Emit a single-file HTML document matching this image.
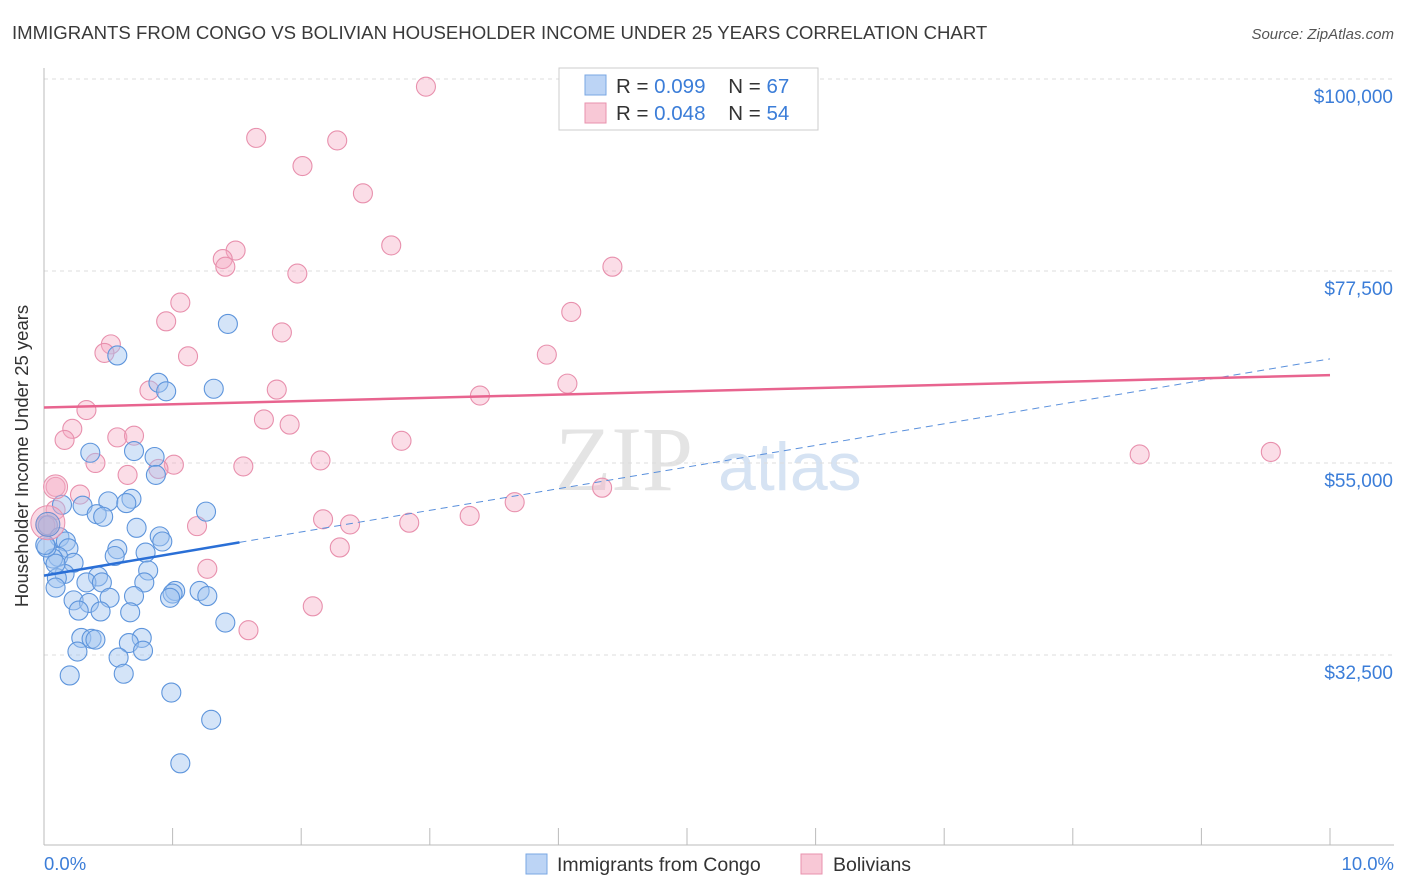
<!DOCTYPE html>
<html><head><meta charset="utf-8"><style>
body{margin:0;background:#fff;font-family:"Liberation Sans",sans-serif;}
svg{display:block}
</style></head><body>
<svg id="chart" width="1406" height="892">
<text x="12" y="39" font-size="18.6" fill="#3a3a3a">IMMIGRANTS FROM CONGO VS BOLIVIAN HOUSEHOLDER INCOME UNDER 25 YEARS CORRELATION CHART</text>
<text x="1394" y="39" font-size="15" fill="#555" text-anchor="end" font-style="italic">Source: ZipAtlas.com</text>
<text x="555" y="490" font-size="92" fill="#e4e4e4" font-family="Liberation Serif">ZIP</text>
<text x="718" y="490" font-size="68" fill="#d6e3f3">atlas</text>
<g id="grid"></g>
<line x1="44" y1="68" x2="44" y2="845" stroke="#bbb"/>
<line x1="44" y1="845" x2="1394" y2="845" stroke="#bbb"/>
<text x="28" y="456" font-size="18.5" fill="#333" text-anchor="middle" transform="rotate(-90 28 456)">Householder Income Under 25 years</text>
<text x="44" y="870" font-size="18.5" fill="#3b7dd8">0.0%</text>
<text x="1394" y="870" font-size="18.5" fill="#3b7dd8" text-anchor="end">10.0%</text>
<g id="points"></g>
<g id="lines"></g>
<g>
<rect x="559" y="68" width="259" height="62" fill="#fff" stroke="#ccc"/>
<rect x="585" y="75" width="21" height="20" fill="#bcd4f5" stroke="#7aa7e3"/>
<text x="616" y="93" font-size="20.5" fill="#333">R = <tspan fill="#3b7dd8">0.099</tspan>&#160;&#160;&#160; N = <tspan fill="#3b7dd8">67</tspan></text>
<rect x="585" y="103" width="21" height="20" fill="#f8c8d6" stroke="#e892ad"/>
<text x="616" y="120" font-size="20.5" fill="#333">R = <tspan fill="#3b7dd8">0.048</tspan>&#160;&#160;&#160; N = <tspan fill="#3b7dd8">54</tspan></text>
</g>
<g>
<rect x="526" y="854" width="21" height="20" fill="#bcd4f5" stroke="#7aa7e3"/>
<text x="557" y="871" font-size="19.5" fill="#333">Immigrants from Congo</text>
<rect x="801" y="854" width="21" height="20" fill="#f8c8d6" stroke="#e892ad"/>
<text x="833" y="871" font-size="19.5" fill="#333">Bolivians</text>
</g>
</svg>
<script>
const yTicks=[100000,77500,55000,32500];
const yTickLabels=["$100,000","$77,500","$55,000","$32,500"];
const xTicks=[0,1,2,3,4,5,6,7,8,9,10];
const congoX=[1.43,0.57,0.89,0.95,1.32,0.36,0.70,0.86,0.87,0.14,0.30,0.50,0.68,0.64,0.41,0.46,1.26,0.72,0.90,0.92,0.03,0.12,0.17,0.19,0.11,0.07,0.23,0.57,0.55,0.79,0.81,0.16,0.10,0.42,0.33,0.45,0.78,0.09,0.51,0.70,1.02,1.00,0.98,1.21,1.27,0.23,0.35,0.27,0.44,0.67,1.41,0.29,0.37,0.40,0.76,0.66,0.77,0.26,0.58,0.20,0.62,0.99,1.30,1.06,0.02,0.09,0.01];
const congoY=[71300,67600,64400,63400,63700,56200,56400,55700,53600,50100,50000,50500,50800,50300,49000,48700,49300,47400,46400,45800,47700,46300,45800,45000,44000,43800,43300,44900,44100,44500,42400,42000,41500,41700,41000,41000,41000,40400,39200,39400,40000,39700,39200,40000,39400,38900,38600,37700,37600,37500,36300,34500,34400,34300,34500,33900,33000,32900,32200,30100,30300,28100,24900,19800,45100,43200,45400];
const bolX=[2.97,1.65,2.28,2.01,2.48,2.70,1.49,1.39,1.41,1.97,4.42,1.06,0.95,4.10,1.85,0.52,0.47,1.12,3.91,0.82,4.07,3.39,1.81,0.33,1.71,1.91,0.22,0.16,2.78,0.57,0.70,0.40,2.15,1.01,1.55,0.89,0.65,8.52,9.54,0.09,0.28,4.34,3.66,2.17,3.31,2.38,2.84,1.19,0.01,2.30,1.27,2.09,1.59,0.09];
const bolY=[99100,93100,92800,89800,86600,80500,79900,78900,78000,77200,78000,73800,71600,72700,70300,68900,67900,67500,67700,63500,64300,62900,63600,61200,60100,59500,59000,57700,57600,58000,58200,55000,55300,54800,54600,54300,53600,56000,56300,52200,51300,52100,50400,48400,48800,47800,48000,47600,47700,45100,42600,38200,35400,49500];
const svgNS="http://www.w3.org/2000/svg";
const sx=v=>44+v*128.6;
const sy=v=>79+(100000-v)/1000*8.533;
const grid=document.getElementById('grid');
function mk(tag,attrs,parent){const e=document.createElementNS(svgNS,tag);for(const k in attrs)e.setAttribute(k,attrs[k]);parent.appendChild(e);return e;}
yTicks.forEach((t,i)=>{
 const l=mk('line',{x1:44,x2:1394,y1:sy(t),y2:sy(t),stroke:'#ddd','stroke-dasharray':'4,4'},grid);
 
 
 const tx=mk('text',{x:1393,y:sy(t)+24,'font-size':19,fill:'#3b7dd8','text-anchor':'end'},grid);
 tx.textContent=yTickLabels[i];
 
 
});
xTicks.forEach(t=>{
 const l=mk('line',{x1:sx(t),x2:sx(t),y1:828,y2:845,stroke:'#bbb'},grid);
 
 
});
const pts=document.getElementById('points');
function drawSeries(xs,ys,fill,stroke,name){
 xs.forEach((x,i)=>{
  const c=mk('circle',{cx:sx(x),cy:sy(ys[i]),r:9.5,fill:fill,stroke:stroke,'stroke-width':1.1},pts);
  
  
 });
}
drawSeries(bolX,bolY,'rgba(245,170,195,0.4)','#e890ad','bolivian-point');
drawSeries(congoX,congoY,'rgba(160,195,240,0.45)','#5e95dc','congo-point');
const big=[[0.09,52200,'rgba(245,170,195,0.45)','#e890ad',12],[0.03,48000,'rgba(245,170,195,0.45)','#e890ad',17],[0.03,47800,'rgba(160,175,220,0.5)','#6a8fd0',12]];
big.forEach(b=>{const c=mk('circle',{cx:sx(b[0]),cy:sy(b[1]),r:b[4],fill:b[2],stroke:b[3]},pts);
 
 });
const ln=document.getElementById('lines');
let a=mk('line',{x1:sx(0),y1:sy(41800),x2:sx(1.52),y2:sy(45700),stroke:'#2a6fd6','stroke-width':2.5},ln);


a=mk('line',{x1:sx(1.52),y1:sy(45700),x2:sx(10),y2:sy(67200),stroke:'#5a90dc','stroke-width':1,'stroke-dasharray':'7,5'},ln);


a=mk('line',{x1:sx(0),y1:sy(61500),x2:sx(10),y2:sy(65300),stroke:'#e8648f','stroke-width':2.5},ln);


</script>
</body></html>
